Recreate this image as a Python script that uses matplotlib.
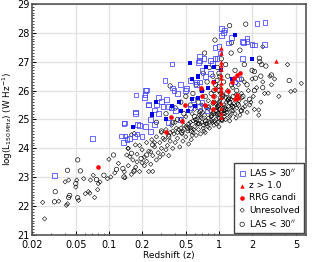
import matplotlib
matplotlib.use("Agg")
import matplotlib.pyplot as plt
from matplotlib.ticker import FixedLocator, MultipleLocator, NullFormatter

# --- data (redshift, log L150) ---
diam_z = [0.025, 0.026, 0.035, 0.040, 0.043, 0.041, 0.042, 0.051, 0.050, 0.053, 0.059, 0.061,
          0.067, 0.065, 0.068, 0.072, 0.074, 0.080, 0.079, 0.083, 0.100, 0.097, 0.104, 0.113,
          0.122, 0.138, 0.149, 0.174, 0.16, 0.17, 0.145, 0.155, 0.17, 0.18, 0.2, 0.23, 0.24,
          0.14, 0.15, 0.16, 0.165, 0.15, 0.175, 0.18, 0.19, 0.19, 0.2, 0.21, 0.21, 0.22, 0.22,
          0.23, 0.24, 0.245, 0.25, 0.25, 0.26, 0.27, 0.27, 0.28, 0.29, 0.29, 0.3, 0.3, 0.31,
          0.32, 0.33, 0.33, 0.34, 0.35, 0.35, 0.36, 0.37, 0.38, 0.39, 0.4, 0.4, 0.42, 0.43,
          0.44, 0.45, 0.46, 0.47, 0.48, 0.5, 0.5, 0.52, 0.53, 0.55, 0.56, 0.57, 0.58, 0.6,
          0.6, 0.62, 0.63, 0.65, 0.66, 0.68, 0.7, 0.7, 0.72, 0.74, 0.75, 0.77, 0.78, 0.8, 0.8,
          0.82, 0.84, 0.86, 0.88, 0.9, 0.9, 0.92, 0.94, 0.96, 0.98, 1.0, 1.0, 1.03, 1.05,
          1.07, 1.1, 1.12, 1.15, 1.18, 1.2, 1.22, 1.25, 1.28, 1.3, 1.33, 1.36, 1.4, 1.42,
          1.45, 1.5, 1.52, 1.55, 1.6, 1.65, 1.7, 1.75, 1.8, 1.85, 1.9, 2.0, 2.05, 2.1, 2.2,
          2.3, 2.3, 2.4, 2.5, 2.6, 2.8, 2.9, 3.0, 3.2, 2.5, 4.2, 5.6, 4.9, 4.5, 3.5,
          0.95, 1.0, 1.05, 0.97, 1.02, 1.08, 0.93, 1.0, 1.04, 0.99, 0.85, 0.75, 0.65, 0.55,
          1.15, 1.25, 1.35, 0.45, 0.38, 0.62, 0.72, 0.83, 1.1, 1.2, 0.58, 0.68, 0.5, 0.42,
          0.54, 0.59, 0.64, 0.69, 0.73, 0.79, 0.85, 0.91, 0.96, 1.01, 1.06, 1.13, 1.19, 1.27,
          1.34, 1.43, 1.58, 1.72, 0.61, 0.71, 0.81, 0.87, 0.94, 1.09, 1.17, 1.31, 1.48, 0.66,
          0.76, 0.89, 0.99, 1.11, 1.24, 0.57, 0.36, 0.41, 0.31, 0.26, 0.47, 0.53, 1.62, 1.95]
diam_L = [22.13, 21.56, 22.17, 22.84, 22.9, 22.03, 22.08, 22.9, 22.66, 22.2, 22.95, 22.43,
          22.45, 22.5, 22.9, 23.07, 22.3, 22.78, 22.57, 22.84, 23.62, 22.95, 23.01, 23.15,
          23.48, 23.19, 24.0, 24.12, 24.47, 24.52, 23.77, 23.71, 23.24, 23.53, 23.5, 23.2, 23.88,
          22.98, 23.4, 23.1, 23.6, 24.0, 23.35, 23.8, 23.2, 24.1, 23.95, 23.4, 23.7, 24.2, 23.55,
          23.9, 23.45, 24.3, 23.2, 23.75, 24.05, 23.6, 24.4, 23.85, 24.2, 23.7, 24.55, 24.0, 23.8,
          24.3, 23.95, 24.65, 24.1, 24.45, 23.75, 24.25, 24.8, 24.0, 24.5, 24.2, 24.9, 24.35, 24.65,
          24.05, 25.0, 24.5, 24.25, 24.8, 24.4, 25.1, 24.6, 24.15, 24.9, 24.3, 25.2, 24.55, 24.75,
          25.35, 24.45, 25.0, 24.65, 25.25, 24.5, 24.9, 25.5, 24.7, 25.15, 24.55, 25.4, 24.85, 25.05, 25.65,
          24.7, 25.3, 24.95, 25.55, 24.8, 25.2, 25.8, 25.0, 25.4, 24.9, 25.6, 25.15, 25.9, 25.3,
          24.95, 25.5, 25.1, 25.75, 25.25, 26.0, 25.45, 25.1, 25.7, 25.3, 26.1, 25.55, 25.2, 25.85,
          25.4, 26.2, 25.65, 25.15, 25.9, 25.4, 26.3, 25.6, 25.25, 26.0, 25.5, 26.4, 25.8, 25.35, 26.1,
          25.33, 25.15, 25.6, 26.3, 25.9, 25.91, 26.5, 26.2, 26.4, 27.52, 26.9, 26.25, 26.0, 25.97, 25.8,
          24.85, 25.05, 25.25, 25.45, 25.65, 25.85, 25.55, 24.75, 25.95, 26.15, 25.1, 24.95, 24.85, 24.7,
          25.0, 24.95, 25.45, 24.7, 24.6, 24.9, 24.8, 24.9, 25.2, 25.65, 24.95, 25.1, 24.75, 24.55,
          24.75, 24.65, 24.85, 25.05, 24.6, 24.75, 25.1, 24.95, 25.15, 25.35, 25.0, 25.2, 25.35, 25.15,
          25.3, 25.05, 25.3, 25.45, 25.0, 25.25, 25.45, 24.9, 25.3, 25.4, 25.6, 25.5, 25.55, 25.15,
          24.85, 25.25, 25.45, 25.3, 25.75, 24.45, 24.55, 24.7, 24.35, 24.2, 24.6, 24.85, 25.75, 25.6]

circ_z = [0.0325, 0.032, 0.042, 0.044, 0.043, 0.052, 0.055, 0.05, 0.052, 0.077, 0.09, 0.11,
          0.117, 0.134, 0.137, 0.16, 0.169, 0.196, 0.22, 0.25,
          0.27, 0.3, 0.33, 0.36, 0.38, 0.4, 0.42, 0.45, 0.48, 0.5, 0.52, 0.55, 0.58, 0.6, 0.62,
          0.65, 0.68, 0.7, 0.72, 0.74, 0.75, 0.78, 0.8, 0.82, 0.85, 0.88, 0.9, 0.92, 0.93, 0.95,
          0.97, 1.0, 1.0, 1.02, 1.05, 1.08, 1.1, 1.12, 1.15, 1.18, 1.2, 1.25, 1.25, 1.29, 1.3,
          1.3, 1.35, 1.4, 1.45, 1.5, 1.55, 1.6, 1.65, 1.7, 1.75, 1.8, 1.9, 2.0, 2.1, 2.33, 2.35,
          2.4, 2.5, 2.67, 2.45, 2.1, 2.15, 3.0, 4.35, 0.98, 1.04, 0.96, 1.06, 0.86, 0.76, 0.66,
          1.14, 1.22, 0.56, 0.46, 0.35, 1.32, 1.6, 0.9, 1.0]
circ_L = [22.5, 22.15, 23.24, 22.37, 22.3, 23.6, 23.22, 22.78, 22.29, 22.92, 23.07, 23.77,
          23.27, 23.3, 23.01, 23.83, 23.21, 23.65, 23.77, 24.12,
          24.9, 24.6, 25.2, 26.16, 24.9, 25.4, 25.0, 25.6, 25.2, 25.8, 24.7, 25.5, 25.9, 25.1, 26.2,
          25.6, 25.3, 26.0, 26.6, 27.3, 25.8, 26.3, 25.4, 26.8, 25.9, 26.5, 25.6, 27.75, 26.2, 25.3,
          26.8, 26.0, 25.5, 26.5, 27.1, 25.8, 26.3, 25.4, 26.9, 25.9, 26.5, 28.25, 25.6, 27.3, 26.2,
          27.66, 25.8, 26.7, 26.0, 25.5, 27.4, 26.4, 25.8, 26.9, 28.3, 26.2, 25.7, 26.7, 26.0, 27.12, 27.0,
          26.5, 26.1, 26.85, 26.9, 26.66, 26.43, 26.54, 26.35, 25.2, 25.75, 26.35, 25.0, 25.15, 24.95, 24.85,
          25.35, 25.7, 24.6, 24.55, 24.4, 25.45, 25.3, 26.0, 26.6]

las_open_z = [0.032, 0.071, 0.13, 0.136, 0.155, 0.2, 0.24, 0.214, 0.213, 0.21, 0.176, 0.229,
              0.175, 0.182, 0.137, 0.139, 0.214, 0.26, 0.66, 0.66, 0.374, 0.323, 0.375, 0.39,
              0.55, 0.62, 0.51, 0.218, 0.173, 0.23, 0.284, 0.3, 0.335, 0.27, 0.31, 0.35, 0.37,
              0.26, 0.28, 0.24, 0.188, 0.14, 0.146, 0.17, 0.18, 1.06, 1.06, 1.3, 1.22, 1.0, 1.02,
              0.96, 0.92, 0.84, 0.87, 1.65, 1.8, 2.1, 0.92, 0.73, 0.65, 0.84, 0.76, 0.7, 0.67,
              0.62, 1.5, 1.38, 0.7, 0.67, 0.78, 2.22, 2.62, 1.67, 1.8, 2.0, 2.6, 1.63, 1.1, 1.13,
              0.45, 0.5, 0.42, 0.58, 0.4, 0.45, 0.55, 0.35]
las_open_L = [23.05, 24.35, 24.43, 24.2, 24.35, 24.4, 24.58, 26.0, 25.87, 25.77, 25.85, 25.5,
              25.22, 24.83, 24.85, 24.88, 24.75, 24.83, 27.18, 27.03, 26.92, 26.34, 26.09, 26.0,
              26.35, 26.3, 26.08, 26.02, 25.26, 25.53, 25.76, 25.62, 25.7, 25.5, 25.46, 25.46, 25.4,
              25.33, 25.2, 25.0, 24.8, 24.43, 24.32, 24.41, 24.5, 28.15, 27.9, 27.85, 27.65, 27.52, 27.3,
              27.1, 27.1, 27.05, 26.95, 27.7, 27.7, 27.58, 27.48, 27.1, 26.96, 26.6, 26.5, 26.7, 26.3,
              26.2, 26.4, 26.3, 25.6, 25.45, 25.3, 28.31, 28.35, 27.66, 27.81, 27.6, 27.6, 27.12, 28.0, 28.1,
              26.2, 26.0, 25.9, 25.7, 25.3, 25.0, 25.4, 24.9]

las_fill_z = [0.27, 0.247, 0.165, 0.245, 0.374, 0.55, 0.65, 0.52, 1.4, 2.0, 0.76, 0.9, 1.05,
              0.64, 0.57, 0.8, 0.7, 1.3, 0.64, 0.57, 0.6, 0.33, 0.43, 0.45, 0.9]
las_fill_L = [25.62, 25.17, 24.74, 25.2, 25.48, 26.95, 26.48, 25.3, 27.93, 27.08, 26.8, 26.8, 26.7,
              26.5, 26.4, 26.1, 26.0, 26.4, 25.75, 25.7, 25.45, 25.0, 25.6, 25.3, 26.3]

hiz_z = [1.05, 1.05, 1.05, 1.05, 1.05, 1.05, 1.05, 1.05, 1.05, 1.05, 1.05, 1.05, 1.05, 1.05,
         1.05, 1.05, 3.3]
hiz_L = [27.47, 27.3, 27.0, 26.9, 26.75, 26.54, 26.44, 26.26, 26.13, 26.02, 25.9, 25.78, 25.57,
         25.4, 25.23, 25.1, 27.03]

rrg_z = [0.08, 0.37, 0.46, 0.33, 0.49, 0.89, 0.92, 0.88, 0.88, 1.22, 1.3, 1.38, 1.45, 1.55,
         1.45, 1.5, 0.68, 0.75, 0.7, 0.88, 1.4]
rrg_L = [23.35, 25.1, 24.93, 24.55, 25.5, 26.31, 26.05, 25.8, 25.6, 26.0, 26.3, 26.45, 26.53, 26.6,
         25.85, 25.75, 26.08, 25.5, 25.8, 25.35, 25.7]

xticks = [0.02, 0.05, 0.1, 0.2, 0.5, 1, 2, 5]
xtick_labels = ["0.02", "0.05", "0.1", "0.2", "0.5", "1", "2", "5"]

plt.rcParams["font.family"] = ["DejaVu Sans"]
plt.rcParams["font.size"] = 7

fig, ax = plt.subplots(figsize=(3.14, 2.62), dpi=100)
fig.subplots_adjust(left=0.102, right=0.975, top=0.985, bottom=0.103)

ax.scatter(diam_z, diam_L, marker="D", s=5, facecolors="none", edgecolors="black",
           linewidths=0.4, label="Unresolved", zorder=3)
ax.scatter(circ_z, circ_L, marker="o", s=10, facecolors="none", edgecolors="black",
           linewidths=0.45, label="LAS < 30$''$", zorder=3)
ax.scatter(las_open_z, las_open_L, marker="s", s=12, facecolors="none", edgecolors="#4444ff",
           linewidths=0.55, label="LAS > 30$''$", zorder=4)
ax.scatter(las_fill_z, las_fill_L, marker="s", s=12, color="#0000e6", linewidths=0, zorder=4)
ax.scatter(hiz_z, hiz_L, marker="^", s=10, color="red", linewidths=0, label="z > 1.0", zorder=5)
ax.scatter(rrg_z, rrg_L, marker="o", s=11, color="red", linewidths=0, label="RRG candi", zorder=5)

ax.set_xscale("log")
ax.set_xlim(0.02, 6.2)
ax.set_ylim(21, 29)
ax.xaxis.set_major_locator(FixedLocator(xticks))
ax.set_xticklabels(xtick_labels)
ax.xaxis.set_minor_formatter(NullFormatter())
ax.yaxis.set_major_locator(MultipleLocator(1))
ax.yaxis.set_minor_locator(MultipleLocator(0.1))
ax.tick_params(which="both", direction="in", labelsize=7, colors="black")
ax.tick_params(axis="y", pad=2)
ax.tick_params(axis="x", pad=3.5)
ax.tick_params(which="major", length=3, width=0.7)
ax.tick_params(which="minor", length=1.5, width=0.5)
ax.grid(True, which="major", color="#e3e3e3", linewidth=1.0, zorder=0)
ax.set_axisbelow(True)
for sp in ax.spines.values():
    sp.set_color("#555555")
    sp.set_linewidth(1.2)

ax.set_xlabel("Redshift (z)", fontsize=6.5, labelpad=0.5)
ax.set_ylabel("log(L$_{150\\,\\mathrm{MHz}}$) (W Hz$^{-1}$)", fontsize=6.3, labelpad=1)

h, l = ax.get_legend_handles_labels()
order = [2, 3, 4, 0, 1]
leg = ax.legend([h[i] for i in order], [l[i] for i in order], loc="lower right",
                fontsize=6.5, frameon=True, fancybox=False, framealpha=1,
                edgecolor="#444444", handletextpad=0.3, borderpad=0.45,
                labelspacing=0.35, handlelength=0.9, borderaxespad=0.25)
leg.get_frame().set_linewidth(1.0)

fig.savefig("out.png", dpi=100)
